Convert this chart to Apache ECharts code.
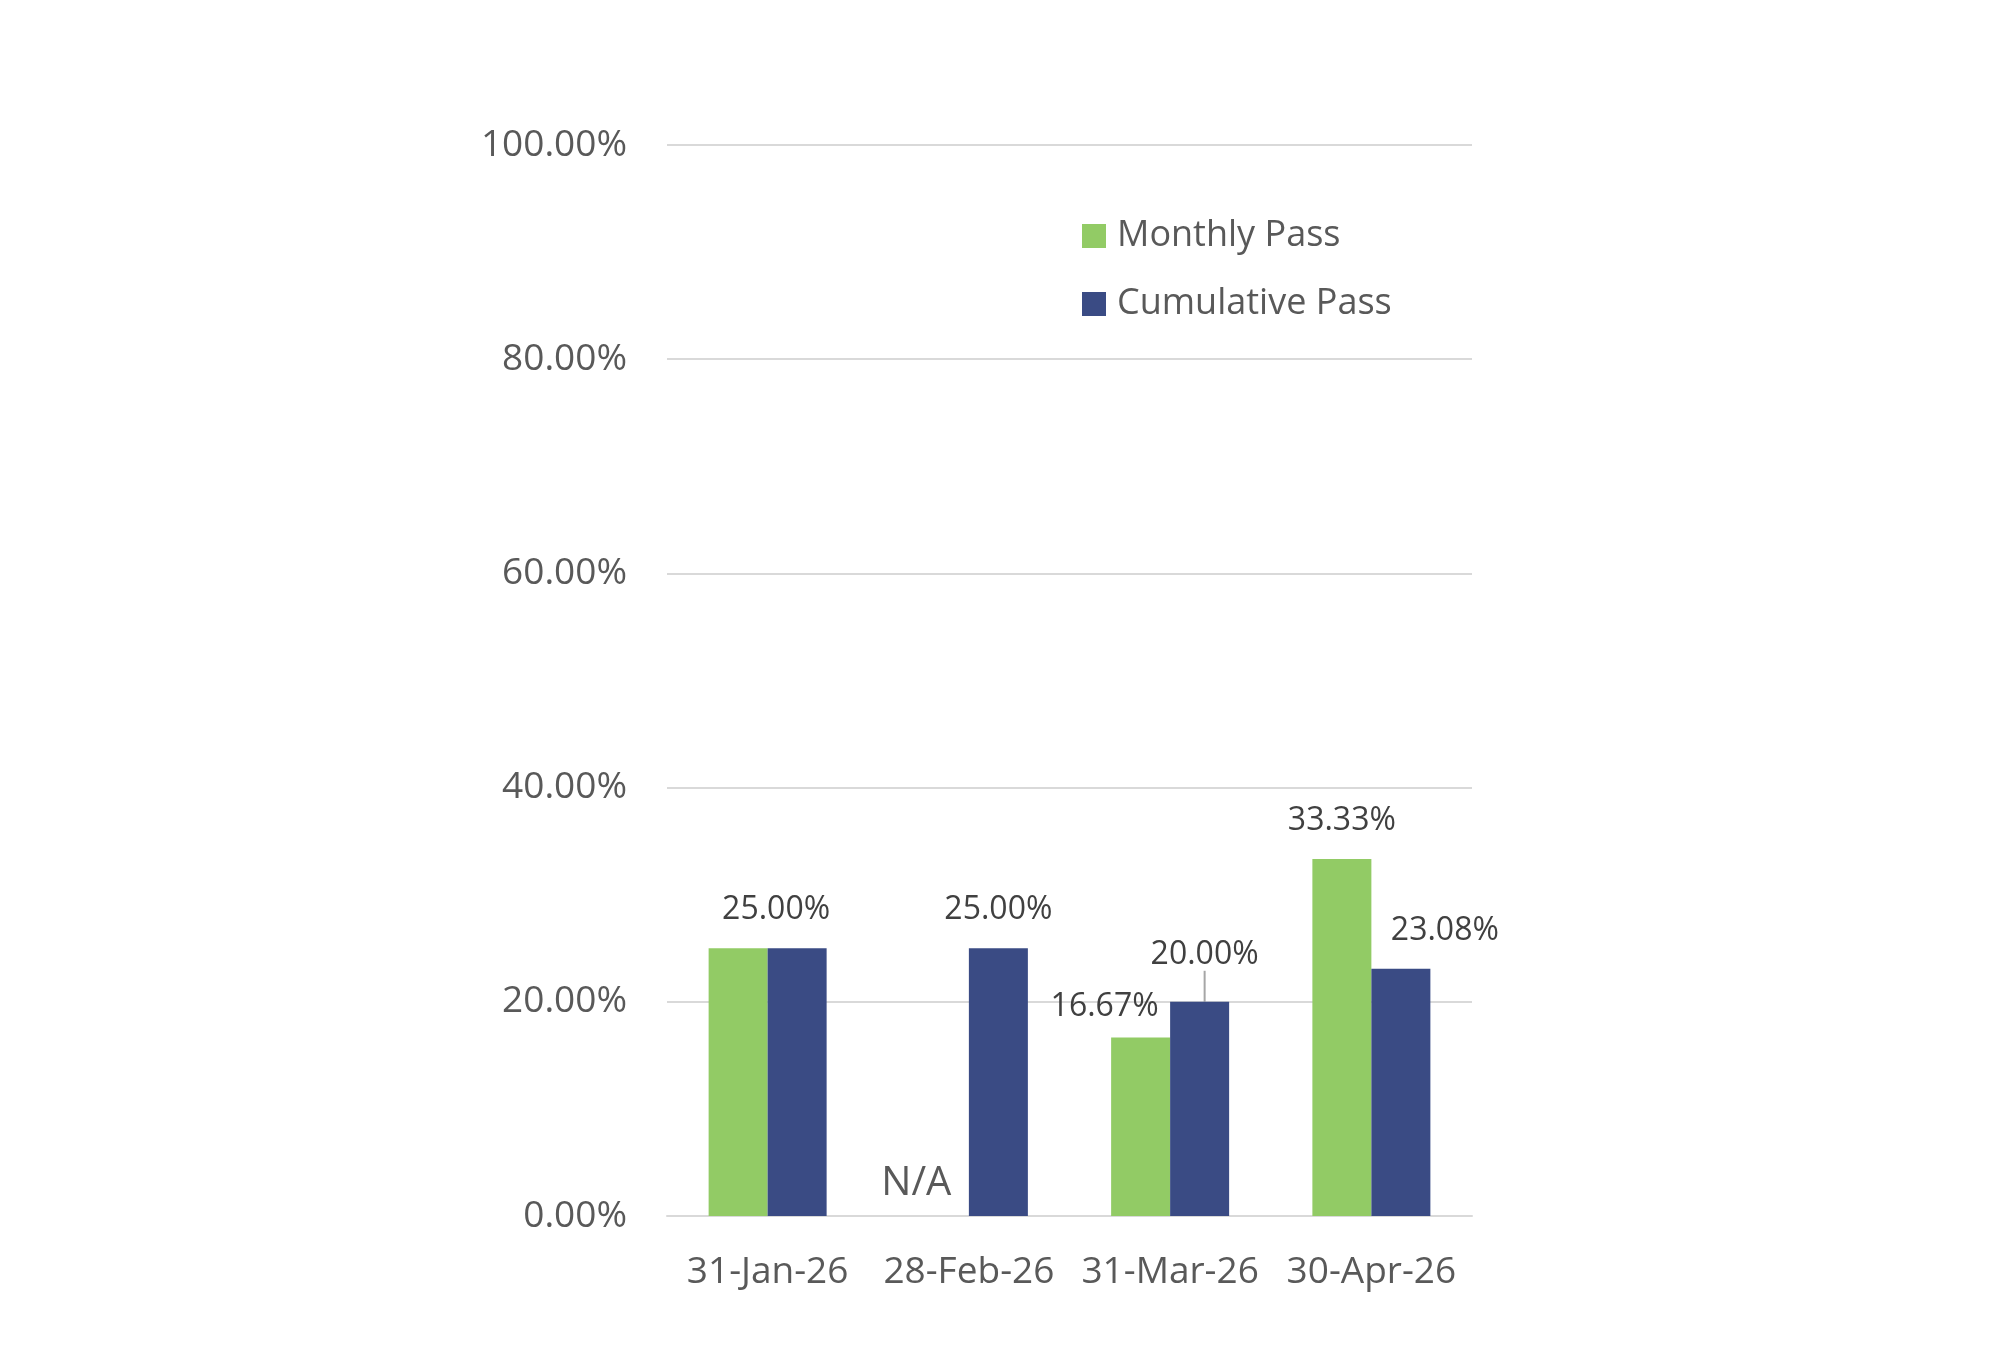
<!DOCTYPE html>
<html>
<head>
    <meta charset="UTF-8">
    <title>Monthly / Cumulative Pass</title>
    <script src="https://cdn.jsdelivr.net/npm/echarts@6/dist/echarts.min.js"></script>
    <style>
        html, body { margin: 0; padding: 0; background: #fff; }
        #main { width: 2000px; height: 1364px; }
    </style>
</head>
<body>
<div id="main"></div>
<script type="text/javascript">
    // categories and values (percent)
    var months = ['31-Jan-26', '28-Feb-26', '31-Mar-26', '30-Apr-26'];
    var monthlyPass = [25.00, null, 16.67, 33.33];
    var cumulativePass = [25.00, 25.00, 20.00, 23.08];
    var yTicks = [0, 20, 40, 60, 80, 100];

    // label nudges, [dx, dy] per bar (moved by hand in the original)
    var monthlyShift = [[0, 0], [-23, -6], [-36, 7], [0, 0]];
    var cumulativeShift = [[-21, 0], [0, 0], [5, -9], [44, 0]];

    var FONT = 'Open Sans';
    var fmt = function (v) { return v.toFixed(2) + '%'; };

    var monthlyData = monthlyPass.map(function (v, i) {
        if (v === null) {
            // no value that month, Excel shows N/A text at the base
            return {
                value: 0,
                label: {
                    show: true, formatter: 'N/A', fontSize: 40,
                    color: '#595959', distance: 6
                }
            };
        }
        // Jan label is shared with the cumulative one
        return i === 0 ? {value: v, label: {show: false}} : {value: v};
    });
    var cumulativeData = cumulativePass.map(function (v, i) {
        return i === 2 ? {value: v, labelLine: {show: true}} : {value: v};
    });

    var myChart = echarts.init(document.getElementById('main'));
    myChart.setOption({
        animation: false,
        textStyle: {fontFamily: FONT},
        color: ['#92CB65', '#3A4B84'],
        legend: {
            orient: 'vertical',
            left: 1082,
            top: 218,
            padding: 0,
            itemWidth: 24,
            itemHeight: 24,
            itemGap: 32,
            icon: 'rect',
            textStyle: {fontSize: 36, color: '#595959', padding: [0, 0, 0, 6]},
            data: ['Monthly Pass', 'Cumulative Pass']
        },
        grid: {left: 667, right: 528, top: 145, bottom: 148, containLabel: false},
        xAxis: {
            type: 'category',
            data: months,
            axisTick: {show: false},
            axisLine: {lineStyle: {color: '#d9d9d9', width: 2}},
            axisLabel: {fontSize: 37, color: '#595959', margin: 38, interval: 0}
        },
        yAxis: {
            type: 'value',
            min: yTicks[0],
            max: yTicks[yTicks.length - 1],
            interval: yTicks[1] - yTicks[0],
            axisLine: {show: false},
            axisTick: {show: false},
            splitLine: {lineStyle: {color: '#d9d9d9', width: 2}},
            axisLabel: {fontSize: 37, color: '#595959', margin: 40, formatter: fmt}
        },
        series: [{
            name: 'Monthly Pass',
            type: 'bar',
            barWidth: 59,
            barGap: '0%',
            data: monthlyData,
            label: {
                show: true, position: 'top', distance: 22, fontSize: 32, color: '#404040',
                formatter: function (p) { return fmt(p.value); }
            },
            labelLayout: function (p) {
                var s = monthlyShift[p.dataIndex];
                return {dx: s[0], dy: s[1]};
            }
        }, {
            name: 'Cumulative Pass',
            type: 'bar',
            barWidth: 59,
            barGap: '0%',
            data: cumulativeData,
            label: {
                show: true, position: 'top', distance: 22, fontSize: 32, color: '#404040',
                formatter: function (p) { return fmt(p.value); }
            },
            labelLine: {show: false, lineStyle: {color: '#a6a6a6', width: 2}},
            labelLayout: function (p) {
                var s = cumulativeShift[p.dataIndex];
                return {dx: s[0], dy: s[1]};
            }
        }]
    });
</script>
</body>
</html>
